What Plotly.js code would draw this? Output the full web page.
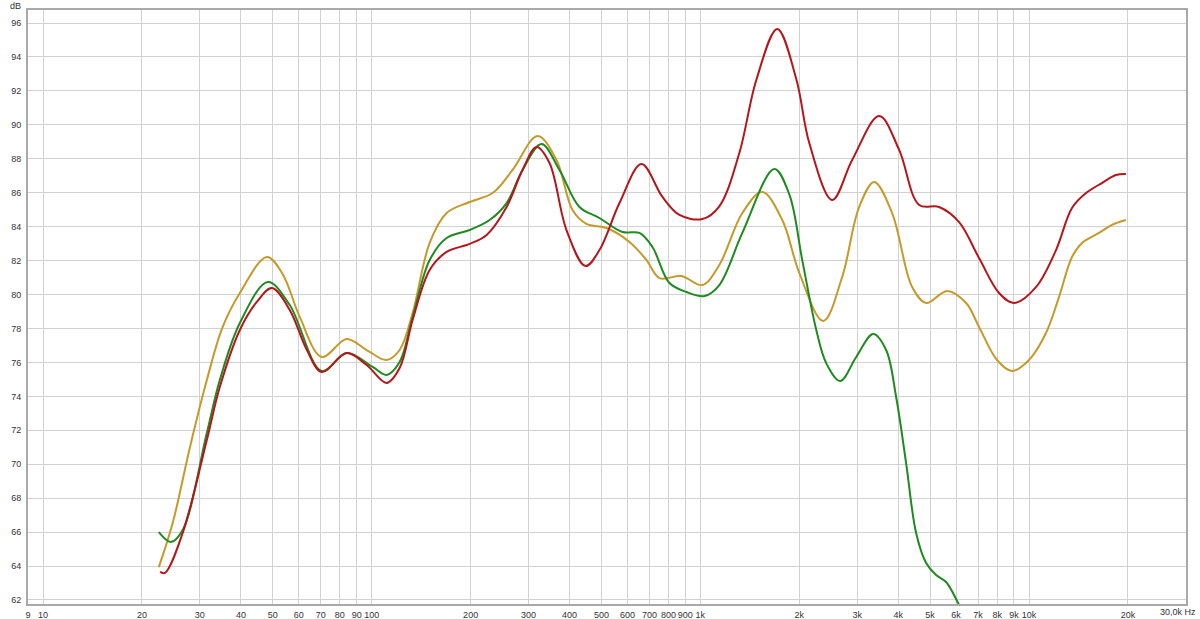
<!DOCTYPE html>
<html>
<head>
<meta charset="utf-8">
<script src="https://cdn.plot.ly/plotly-3.0.1.min.js"></script>
<style>html,body{margin:0;padding:0;background:#fff;}#chart{width:1200px;height:619px;}</style>
</head>
<body>
<div id="chart"></div>
<script>
// Frequencies (Hz) and levels (dB)
const redFreq = [22.7, 23.5, 26.6, 31.5, 34.5, 39.7, 44.7, 49.7, 56.3, 63.5, 70.5, 83.9, 96.5, 111, 121.6,
  133.2, 150.1, 169, 198.6, 223.7, 257.3, 287.7, 317.3, 347.5, 391.4, 447.2, 493.2, 567.4, 662, 766.7, 863.6,
  1014, 1142, 1314, 1480, 1714, 1958, 2145, 2519, 2897, 3500, 4026, 4632, 5326, 6128, 7047, 8105, 9003,
  10502, 12082, 13513, 14909, 16669, 18380, 19710];
const redDb = [63.65, 63.6, 65.95, 71.43, 74.55, 77.91, 79.56, 80.38, 79.09, 76.73, 75.43, 76.55, 75.85, 74.79, 75.67,
  78.5, 81.45, 82.51, 82.98, 83.51, 85.16, 87.34, 88.69, 87.75, 83.8, 81.68, 82.62, 85.39, 87.69, 85.75, 84.69,
  84.45, 85.2, 88.34, 92.64, 95.65, 92.7, 88.93, 85.57, 87.93, 90.52, 88.52, 85.28, 85.16, 84.27, 82.15, 80.09, 79.5,
  80.44, 82.62, 85.1, 85.98, 86.57, 87.04, 87.1];

const greenFreq = [22.5, 24.5, 26.6, 31.5, 34.5, 39.7, 48.3, 56.3, 70.5, 83.9, 100.7, 111, 121.6,
  133.2, 150.1, 169, 198.6, 228.5, 257.3, 287.7, 328.6, 372.7, 428.7, 493.2, 579.4, 652.7, 714.9, 805.2, 906.9,
  1028.5, 1142, 1342, 1679, 1865, 2042, 2253, 2415, 2664, 2980, 3356, 3675, 3942, 4227, 4534, 4864, 5216, 5594,
  6085, 6300];
const greenDb = [66.0, 65.42, 66.12, 71.84, 74.96, 78.32, 80.74, 79.38, 75.49, 76.55, 75.73, 75.26, 76.02,
  78.68, 82.03, 83.33, 83.8, 84.39, 85.39, 87.34, 88.87, 87.34, 85.16, 84.51, 83.68, 83.63, 82.8, 80.68, 80.15,
  79.91, 80.56, 83.63, 87.4, 85.9, 82.03, 77.91, 75.96, 74.9, 76.32, 77.67, 76.73, 73.96, 70.07, 65.95, 64.18, 63.47, 63.06,
  61.82, 61.2];

const goldFreq = [22.5, 24.8, 28.0, 31.5, 35.2, 39.7, 48.0, 53.6, 60.4, 70.5, 83.9, 96.5, 111, 121.6,
  133.2, 150.1, 169, 198.6, 233.3, 268.3, 319.6, 365, 408.3, 450.3, 518, 608.6, 685.6, 750.8, 875.7,
  1014, 1142, 1342, 1543, 1775, 2000, 2365, 2701, 3043, 3380, 3833, 4410, 4864, 5634, 6436, 7047, 7992, 8878,
  10000, 11264, 12338, 13513, 14497, 16323, 17876, 19710];
const goldDb = [63.94, 66.54, 71.02, 74.96, 78.09, 80.09, 82.21, 81.2, 78.68, 76.32, 77.38, 76.73, 76.14, 76.73,
  78.91, 83.04, 84.8, 85.45, 85.98, 87.34, 89.34, 87.93, 84.98, 84.16, 83.92, 83.1, 82.03, 80.97, 81.09,
  80.56, 81.74, 84.8, 86.04, 84.39, 81.27, 78.44, 81.03, 85.16, 86.63, 84.8, 80.44, 79.5, 80.21, 79.5, 78.09, 76.14, 75.49,
  76.14, 77.73, 79.85, 82.21, 83.04, 83.63, 84.1, 84.39];

const xTickVals = [9, 10, 20, 30, 40, 50, 60, 70, 80, 90, 100, 200, 300, 400, 500, 600, 700, 800, 900, 1000,
  2000, 3000, 4000, 5000, 6000, 7000, 8000, 9000, 10000, 20000];
const xTickText = ['9', '10', '20', '30', '40', '50', '60', '70', '80', '90', '100', '200', '300', '400', '500', '600', '700', '800', '900', '1k',
  '2k', '3k', '4k', '5k', '6k', '7k', '8k', '9k', '10k', '20k'];
const xEndLabel = '30,0k Hz';
const yUnitLabel = 'dB';

const lineStyle = (c) => ({color: c, width: 2, shape: 'spline', smoothing: 1});
const traces = [
  {x: goldFreq, y: goldDb, mode: 'lines', line: lineStyle('#c49a2a'), hoverinfo: 'skip'},
  {x: greenFreq, y: greenDb, mode: 'lines', line: lineStyle('#1f8a1f'), hoverinfo: 'skip'},
  {x: redFreq, y: redDb, mode: 'lines', line: lineStyle('#b5161c'), hoverinfo: 'skip'}
];

const font = {family: 'Liberation Sans, Arial, sans-serif', size: 9, color: '#333'};
const layout = {
  width: 1200, height: 619,
  margin: {l: 28, r: 14, t: 10, b: 15, pad: 0},
  paper_bgcolor: '#ffffff', plot_bgcolor: '#ffffff',
  showlegend: false,
  font: font,
  xaxis: {
    type: 'log', range: [Math.log10(8.999), 4.4777],
    tickmode: 'array', tickvals: xTickVals, ticktext: xTickText,
    tickangle: 0,
    showgrid: true, gridcolor: '#d2d2d2', gridwidth: 1,
    showline: true, mirror: true, linecolor: '#a9a9a9', linewidth: 2,
    ticks: '', tickfont: font, zeroline: false, ticklabelstandoff: 1
  },
  yaxis: {
    range: [61.764, 96.766],
    tickmode: 'linear', tick0: 0, dtick: 2,
    showgrid: true, gridcolor: '#d2d2d2', gridwidth: 1,
    showline: true, mirror: true, linecolor: '#a9a9a9', linewidth: 2,
    ticks: '', tickfont: font, zeroline: false, ticklabelstandoff: 3
  },
  annotations: [
    {xref: 'paper', yref: 'paper', x: 1.0095, y: -0.003, xanchor: 'right', yanchor: 'top',
     text: xEndLabel, showarrow: false, font: font, borderpad: 0},
    {xref: 'paper', yref: 'paper', x: -0.005, y: 1.0168, xanchor: 'right', yanchor: 'top',
     text: yUnitLabel, showarrow: false, font: font, borderpad: 0}
  ]
};

Plotly.newPlot('chart', traces, layout, {staticPlot: true, displayModeBar: false});
</script>
</body>
</html>
